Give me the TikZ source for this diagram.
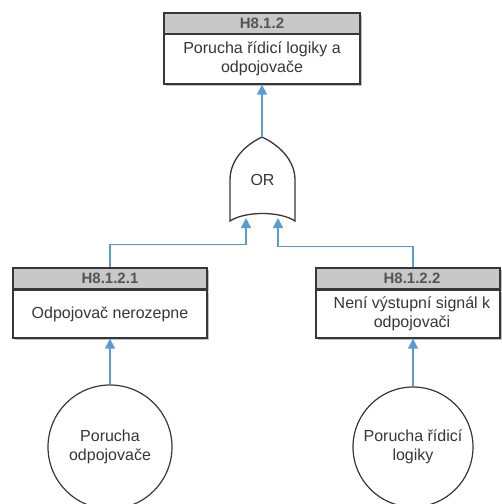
\documentclass[tikz,border=0pt]{standalone}
\usepackage{fontspec}
\setmainfont{Liberation Sans}
\usetikzlibrary{arrows.meta,shadows}
\definecolor{link}{RGB}{91,155,213}
\definecolor{hdr}{RGB}{200,200,200}
\definecolor{edge}{RGB}{55,55,55}
\definecolor{ink}{RGB}{55,55,55}
\newcommand{\txtsize}{\fontsize{16}{18.5}\selectfont}
\newcommand{\hdrsize}{\fontsize{15}{18}\selectfont}

\begin{document}
\begin{tikzpicture}[x=1pt,y=-1pt,
  every node/.style={font=\txtsize, text=ink},
  boxshade/.style={drop shadow={shadow xshift=1.5pt, shadow yshift=-1.5pt, opacity=0.25, fill=black}},
  hdrbox/.style={draw=edge, line width=1.3pt, fill=hdr, inner sep=0pt,
    minimum height=21pt, font=\bfseries\hdrsize, text=ink!85, boxshade},
  bodybox/.style={draw=edge, line width=1.3pt, fill=white, inner sep=0pt,
    align=center, boxshade},
  event/.style={circle, draw=edge, line width=1.2pt, fill=white, inner sep=0pt,
    align=center},
  conn/.style={draw=link, line width=1.5pt, -{Triangle[length=10pt,width=10pt]}}
]
\useasboundingbox (0,0) rectangle (502,504);

% top event
\node[hdrbox, minimum width=196pt] (th) at (262,23.5) {H8.1.2};
\node[bodybox, minimum width=196pt, minimum height=50pt] (tb) at (262,59)
  {Porucha řídicí logiky a\\odpojovače};

% OR gate
\draw[draw=edge, line width=1.3pt, fill=white]
  (230,221) -- (230,180) .. controls (230,160) and (245,145) .. (262,137)
  .. controls (279,145) and (295,160) .. (295,180) -- (295,221)
  .. controls (280,211) and (245,211) .. cycle;
\node (gate) at (262.5,180) {OR};
\coordinate (gout) at (262,137);
\coordinate (gin1) at (246,218);
\coordinate (gin2) at (278,218);

% intermediate events
\node[hdrbox, minimum width=194pt] (lh) at (110,278.5) {H8.1.2.1};
\node[bodybox, minimum width=194pt, minimum height=48pt] (lb) at (110,314)
  {Odpojovač nerozepne};
\node[hdrbox, minimum width=184pt] (rh) at (408,278.5) {\hspace*{8pt}H8.1.2.2};
\node[bodybox, minimum width=184pt, minimum height=48pt] (rb) at (408,314)
  {\hspace*{8pt}Není výstupní signál k\\\hspace*{8pt}odpojovači};

% basic events
\node[event, minimum size=124pt] (lc) at (110,447) {Porucha\\odpojovače};
\node[event, minimum size=120pt] (rc) at (413,447) {Porucha řídicí\\logiky};

% connectors
\draw[conn] (gout) -- (tb.south);
\draw[conn] (lh.north) -- ++(0,-23) -| (gin1);
\draw[conn] (rc.north |- rh.north) -- ++(0,-21) -| (gin2);
\draw[conn] (lc.north) -- (lb.south);
\draw[conn] (rc.north) -- (rc.north |- rb.south);
\end{tikzpicture}
\end{document}
